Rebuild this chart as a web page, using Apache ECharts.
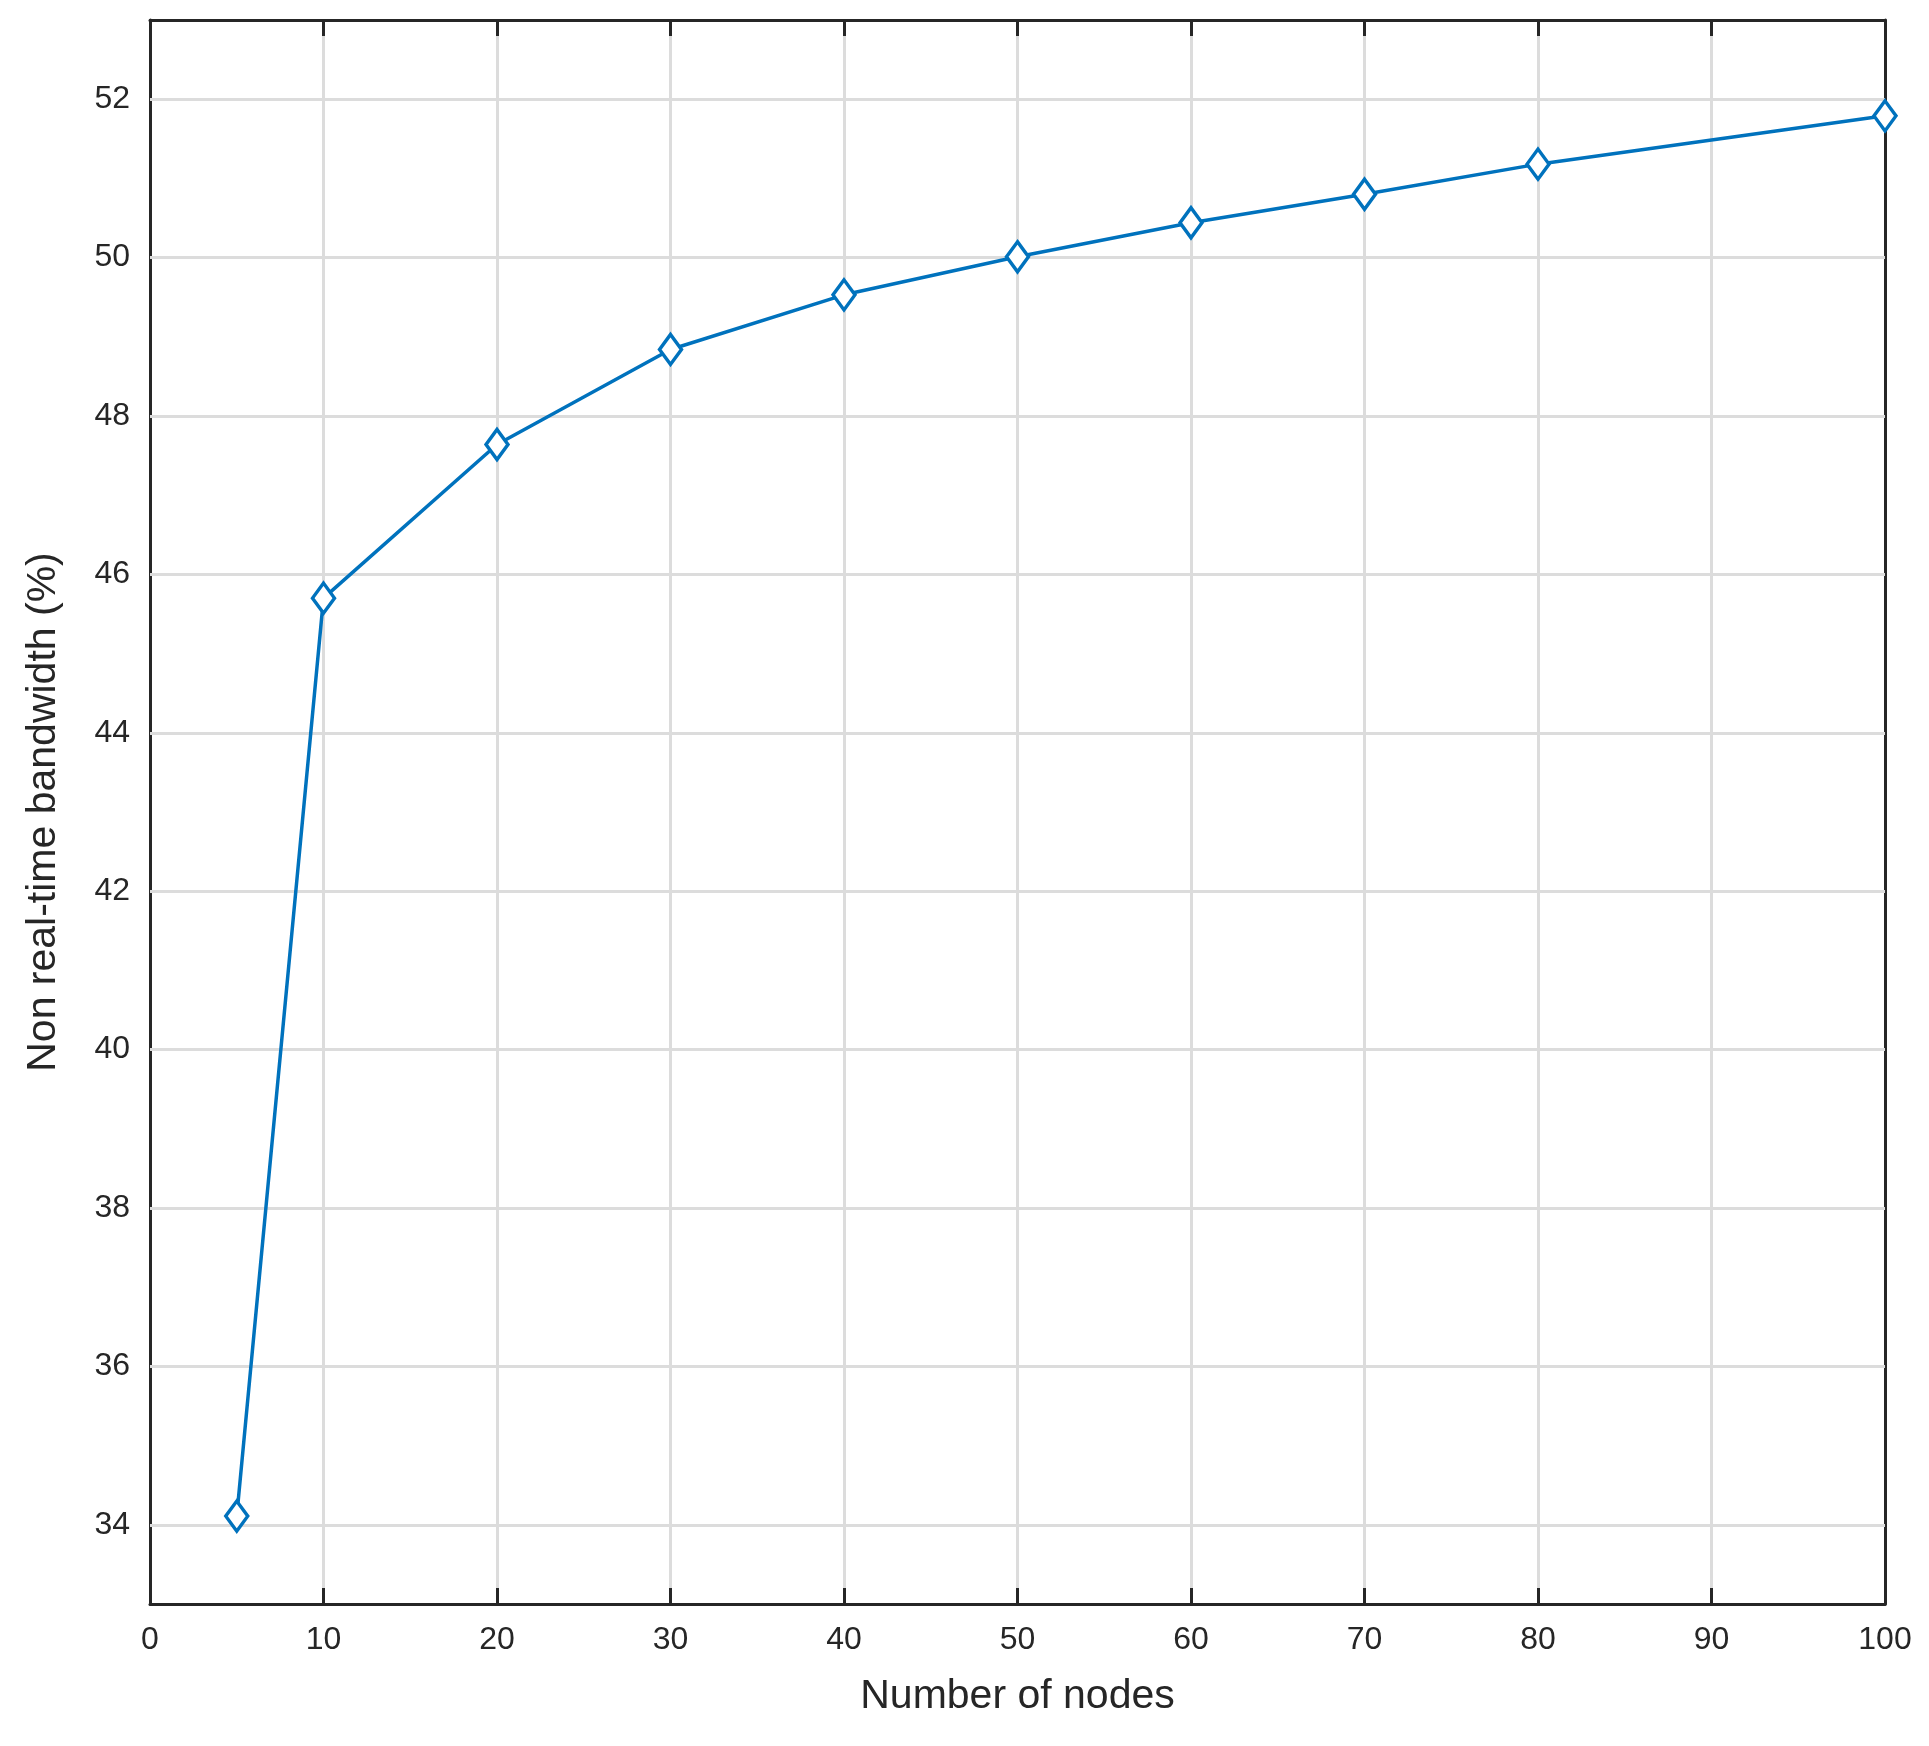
<!DOCTYPE html>
<html><head><meta charset="utf-8">
<script src="https://cdn.jsdelivr.net/npm/echarts@6/dist/echarts.min.js"></script>
<style>html,body{margin:0;padding:0;background:#fff}#c{width:1929px;height:1746px}</style>
</head><body><div id="c"></div>
<script>
const nodes = [5, 10, 20, 30, 40, 50, 60, 70, 80, 100];
const bandwidth = [34.11, 45.70, 47.64, 48.84, 49.53, 50.01, 50.44, 50.80, 51.18, 51.79];
const xTicks = [0,10,20,30,40,50,60,70,80,90,100];
const yTicks = [34,36,38,40,42,44,46,48,50,52];

const chart = echarts.init(document.getElementById('c'));
const font = 'Liberation Sans, Arial, sans-serif';
const axisLine = {show:true, onZero:false, lineStyle:{color:'#262626', width:3}};
const tickIn = {show:true, inside:true, length:16, lineStyle:{color:'#262626', width:3}};
chart.setOption({
  animation:false,
  grid:{left:150, right:44, top:20, bottom:142, containLabel:false},
  xAxis:[{
    type:'value', min:0, max:100, interval:10,
    name:'Number of nodes', nameLocation:'middle', nameGap:72,
    nameTextStyle:{fontSize:41, color:'#262626', fontFamily:font},
    axisLine, axisTick:tickIn,
    axisLabel:{fontSize:32, color:'#262626', margin:20, fontFamily:font},
    splitLine:{show:true, lineStyle:{color:'#dcdcdc', width:3}}
  },{
    type:'value', position:'top', min:0, max:100, interval:10,
    axisLine, axisTick:tickIn, axisLabel:{show:false}, splitLine:{show:false}
  }],
  yAxis:[{
    type:'value', min:33, max:53,
    axisLine, axisTick:{...tickIn, customValues: yTicks},
    axisLabel:{fontSize:32, color:'#262626', margin:20, fontFamily:font, customValues: yTicks},
    splitLine:{show:false},
    name:'Non real-time bandwidth (%)', nameLocation:'middle', nameGap:86,
    nameTextStyle:{fontSize:41, color:'#262626', fontFamily:font}
  },{
    type:'value', position:'right', min:33, max:53,
    axisLine, axisTick:{...tickIn, customValues: yTicks}, axisLabel:{show:false}, splitLine:{show:false}
  }],
  series:[{
    type:'line', data: nodes.map((x,i)=>[x,bandwidth[i]]),
    symbol:'diamond', symbolSize:[22,30],
    itemStyle:{color:'#fff', borderColor:'#0072BD', borderWidth:3.5},
    lineStyle:{color:'#0072BD', width:3.5},
    markLine:{silent:true, symbol:'none', label:{show:false},
      lineStyle:{color:'#dcdcdc', width:3, type:'solid'},
      data: yTicks.map(v=>({yAxis:v}))},
    z:5
  }]
});
</script></body></html>
